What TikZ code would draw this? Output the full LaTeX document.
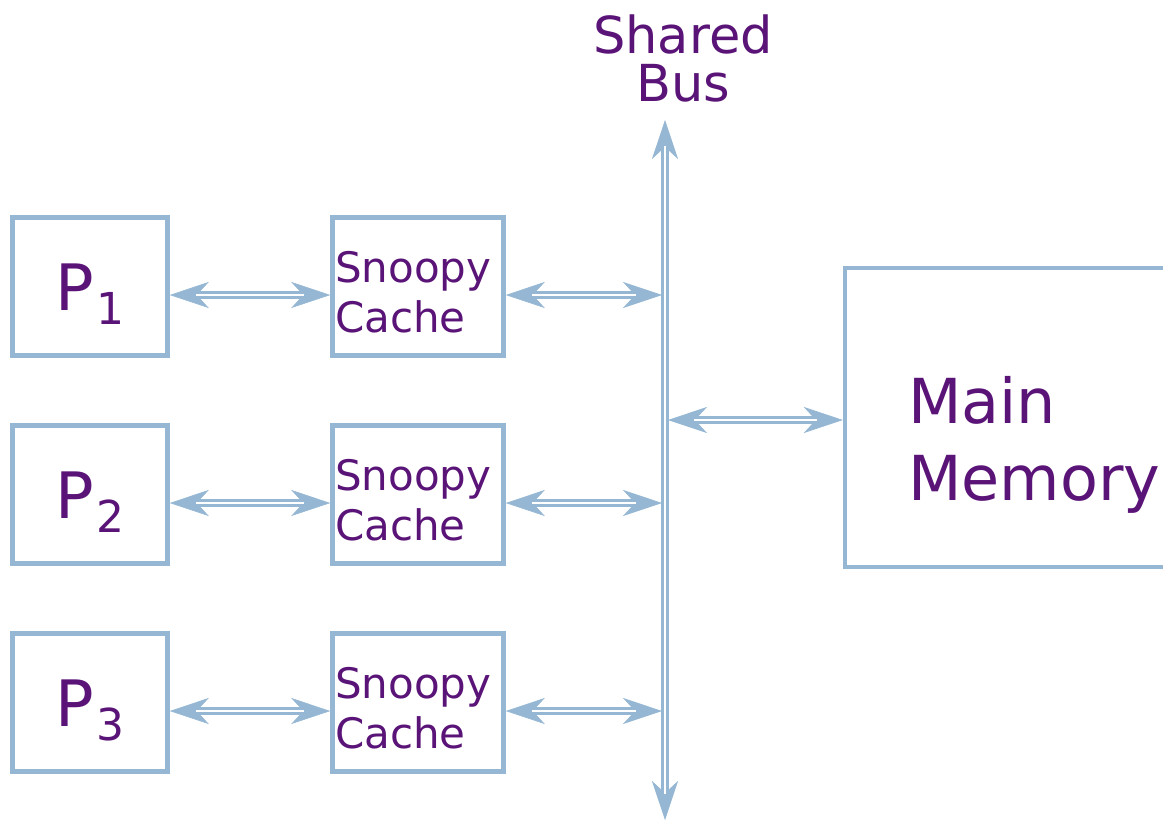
\documentclass[tikz,border=0pt]{standalone}
\usepackage{fontspec}
\setmainfont{DejaVu Sans}
\usetikzlibrary{arrows.meta}
\definecolor{edge}{RGB}{149,183,211}
\definecolor{ink}{RGB}{90,20,120}
\tikzset{
  frame/.style={draw=edge, line width=4.5bp, inner sep=0pt, text=ink},
  cpu/.style={frame, minimum width=155bp, minimum height=138bp,
    font=\fontsize{64bp}{70bp}\selectfont},
  cachebox/.style={frame, minimum width=171bp, minimum height=138bp,
    font=\fontsize{42bp}{50bp}\selectfont},
  bustip/.tip={Stealth[length=39bp,width=26bp,inset=12bp,line width=0.6bp]},
  % a solid band with heads, hollowed by a white core for the double line
  link/.style={draw=edge, line width=7.4bp, bustip-bustip,
    postaction={draw=white, line width=2.6bp, -, shorten <=26bp, shorten >=26bp}},
}
% processor label: P with a lowered index, its baseline set below the box centre
\newcommand{\proc}[1]{\raisebox{-24bp}[0pt][0pt]{P\kern3bp\raisebox{-14bp}{\fontsize{44bp}{44bp}\selectfont #1}}}
% cache label: two left-aligned lines, first baseline just above the box centre
\newcommand{\cachetext}{\hspace*{-6bp}\raisebox{4.5bp}[0pt][0pt]{\parbox[t]{160bp}{\raggedright Snoopy\\Cache}}}
\begin{document}
\begin{tikzpicture}[x=1bp,y=-1bp]
  \useasboundingbox (0,0) rectangle (1163,821);
  \clip (0,0) rectangle (1163,821);

  % processors
  \node[cpu] (p1) at (90,286.5) {\proc{1}};
  \node[cpu] (p2) at (90,494.5) {\proc{2}};
  \node[cpu] (p3) at (90,702.5) {\proc{3}};

  % caches
  \node[cachebox] (c1) at (418,286.5) {\cachetext};
  \node[cachebox] (c2) at (418,494.5) {\cachetext};
  \node[cachebox] (c3) at (418,702.5) {\cachetext};

  % main memory (runs off the right edge)
  \node[frame, minimum width=400bp, minimum height=299bp] (mem) at (1045,417.5) {};
  \node[text=ink, font=\fontsize{62bp}{77bp}\selectfont, align=left, anchor=north west,
    inner sep=0pt] (memtext) at (908,376) {Main\\Memory};

  % bus
  \coordinate (bustop) at (665,120);
  \coordinate (busbot) at (665,820);
  \node[text=ink, font=\fontsize{51bp}{48bp}\selectfont, align=center, inner sep=0pt]
    (buslabel) at (683,58) {Shared\\Bus};
  \draw[link] (bustop) -- (busbot);

  \coordinate (b1) at (662,295);
  \coordinate (b2) at (662,503);
  \coordinate (b3) at (662,711);
  \coordinate (bm) at (668,420);

  % links
  \draw[link] (p1.east |- b1) -- (c1.west |- b1);
  \draw[link] (p2.east |- b2) -- (c2.west |- b2);
  \draw[link] (p3.east |- b3) -- (c3.west |- b3);
  \draw[link] (c1.east |- b1) -- (b1);
  \draw[link] (c2.east |- b2) -- (b2);
  \draw[link] (c3.east |- b3) -- (b3);
  \draw[link] (bm) -- (bm -| mem.west);
\end{tikzpicture}
\end{document}
